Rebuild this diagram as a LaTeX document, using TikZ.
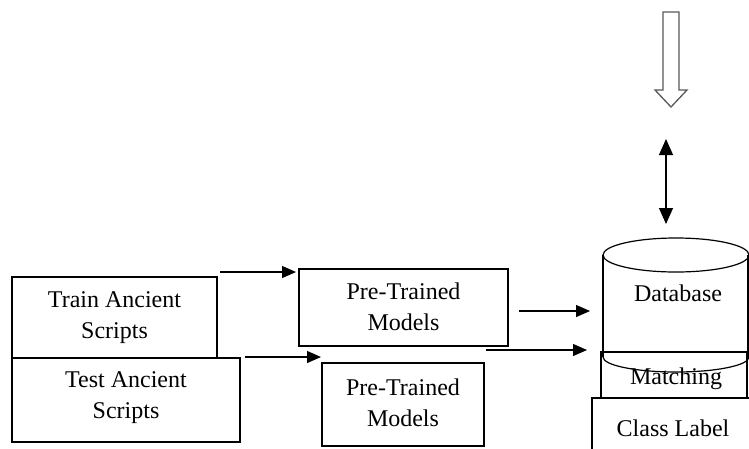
\documentclass[tikz,border=0pt]{standalone}
\usepackage{fontspec}
\setmainfont{Liberation Serif}
\usetikzlibrary{arrows.meta}
\begin{document}
\begin{tikzpicture}[x=1pt,y=-1pt,
  lbl/.style={align=center,font=\fontsize{24}{31}\selectfont},
  arr/.style={line width=1.2pt,-{Triangle[length=14pt,width=12pt]}},
  darr/.style={line width=1.2pt,{Triangle[length=16pt,width=14pt]}-{Triangle[length=16pt,width=14pt]}}]
\useasboundingbox (0,0) rectangle (749,448);
% left boxes
\draw[line width=1.2pt] (12,277) rectangle (217,358);
\node[lbl] (train) at (114.5,318) {Train Ancient\\Scripts};
\draw[line width=1.2pt] (12,358) rectangle (240,442);
\node[lbl] (test) at (126,398) {Test Ancient\\Scripts};
% pre-trained boxes
\draw[line width=1.2pt] (299,269) rectangle (508,346);
\node[lbl] (pt1) at (403.5,307) {Pre-Trained\\Models};
\draw[line width=1.2pt] (322,363) rectangle (484,446);
\node[lbl] (pt2) at (403,403) {Pre-Trained\\Models};
% arrows
\coordinate (a1s) at (220,272); \coordinate (a1e) at (296,272);
\coordinate (a2s) at (245,357); \coordinate (a2e) at (321,357);
\coordinate (a3s) at (519,311); \coordinate (a3e) at (590,311);
\coordinate (a4s) at (486,350); \coordinate (a4e) at (587,350);
\draw[arr] (a1s) -- (a1e);
\draw[arr] (a2s) -- (a2e);
\draw[arr] (a3s) -- (a3e);
\draw[arr] (a4s) -- (a4e);
% cylinder
\draw[line width=1.2pt] (603,255) -- (603,357);
\draw[line width=1.2pt] (748,255) -- (748,357);
\draw[line width=1.2pt] (676,255) ellipse [x radius=73, y radius=17];
\draw[line width=1.2pt] (603,357) arc[start angle=180,end angle=360,x radius=73,y radius=-15];
\node[lbl] (db) at (678,293) {Database};
% matching box
\draw[line width=1.2pt] (601,352) rectangle (747,398);
\node[lbl] (match) at (676,379) {Matching};
% class label
\draw[line width=1.2pt] (592,398) rectangle (770,470);
\node[lbl] (cls) at (673,428) {Class Label};
% double arrow
\coordinate (d1) at (666,139); \coordinate (d2) at (666,224);
\draw[darr] (d1) -- (d2);
% hollow arrow
\draw[line width=1.3pt,draw=black!65,fill=white] (663,12) -- (679,12) -- (679,90) -- (687,90) -- (671,107) -- (655,90) -- (663,90) -- cycle;
\end{tikzpicture}
\end{document}
